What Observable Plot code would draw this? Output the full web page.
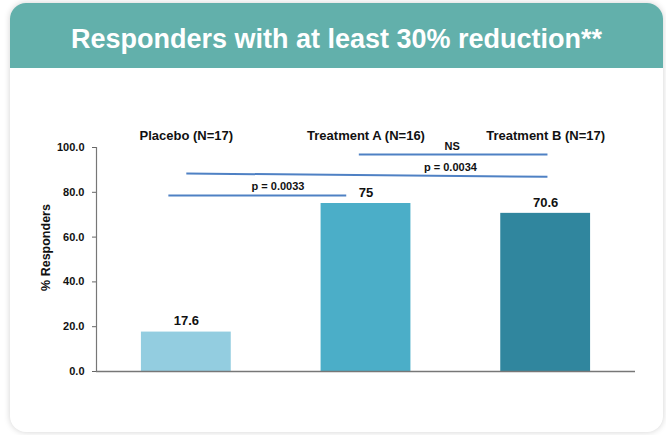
<!DOCTYPE html>
<html>
<head>
<meta charset="utf-8">
<script src="https://cdn.jsdelivr.net/npm/d3@7"></script>
<script src="https://cdn.jsdelivr.net/npm/@observablehq/plot@0.6"></script>
<style>
  html, body { margin: 0; padding: 0; background: #ffffff; }
  body { width: 666px; height: 435px; position: relative; overflow: hidden; font-family: "Liberation Sans", Arial, sans-serif; }
  #card { position: absolute; left: 10px; top: 3px; width: 653px; height: 429px; border-radius: 16px; background: #fff;
          box-shadow: 0 0 6px rgba(0,0,0,0.18); overflow: hidden; }
  #header { position: absolute; left: 0; top: 0; width: 653px; height: 65px; background: #62b0ab; color: #fff;
            font-weight: bold; font-size: 27px; text-align: center; line-height: 72px; }
  #chart { position: absolute; left: 0; top: 68px; }
</style>
</head>
<body>
<div id="card"><div id="header">Responders with at least 30% reduction**</div></div>
<div id="chart"></div>
<script>
const categories = ["Placebo (N=17)", "Treatment A (N=16)", "Treatment B (N=17)"];
const values = [17.6, 75, 70.6];
const valueLabels = ["17.6", "75", "70.6"];
const barColors = ["#93cde0", "#4baec8", "#30869e"];
const yTicks = [0, 20, 40, 60, 80, 100];
// significance brackets: x positions in category-index units, y in % units
const sigLabels = ["NS", "p = 0.0034", "p = 0.0033"];
const sigX1 = [0.96, 0.0, -0.10];
const sigX2 = [2.01, 2.01, 0.89];
const sigY1 = [96.9, 88.4, 78.6];
const sigY2 = [96.9, 86.9, 78.6];
const sigLabelX = [1.48, 1.47, 0.51];
const sigLabelY = [100.6, 91.3, 82.8];

const bars = categories.map((c, i) => ({i, c, v: values[i], label: valueLabels[i], color: barColors[i]}));
const sig = sigLabels.map((l, k) => ({l, x1: sigX1[k], x2: sigX2[k], y1: sigY1[k], y2: sigY2[k], lx: sigLabelX[k], ly: sigLabelY[k]}));

const font = "Liberation Sans, Arial, sans-serif";
const plot = Plot.plot({
  width: 666,
  height: 360,
  marginLeft: 96,
  marginRight: 31,
  marginTop: 79,
  marginBottom: 57,
  style: {fontFamily: font, fontWeight: "bold", color: "#111", background: "transparent"},
  x: {domain: [-0.5, 2.5], axis: null},
  y: {domain: [0, 100], axis: null},
  marks: [
    Plot.rect(bars, {x1: d => d.i - 0.25, x2: d => d.i + 0.25, y1: 0, y2: "v", fill: "color"}),
    Plot.text(bars, {x: "i", y: "v", text: "label", dy: -11, fontSize: 13, fontWeight: "bold", fill: "#111"}),
    Plot.axisX({anchor: "top", ticks: [0, 1, 2], tickFormat: i => categories[i], tickSize: 0, tickPadding: 8,
                fontSize: 13, fontWeight: "bold", fill: "#111", label: null}),
    Plot.axisY({ticks: yTicks, tickFormat: d => d.toFixed(1), tickSize: 4, tickPadding: 8, stroke: "#666",
                fontSize: 11, fontWeight: "bold", fill: "#111", label: null}),
    Plot.text(["% Responders"], {frameAnchor: "left", textAnchor: "middle", rotate: -90, dx: -51, dy: -12, fontSize: 12.5, fontWeight: "bold", fill: "#111"}),
    Plot.ruleX([-0.5], {stroke: "#777", strokeWidth: 1.2}),
    Plot.ruleY([0], {stroke: "#777", strokeWidth: 1.5}),
    Plot.link(sig, {x1: "x1", x2: "x2", y1: "y1", y2: "y2", stroke: "#4f81c4", strokeWidth: 2}),
    Plot.text(sig, {x: "lx", y: "ly", text: "l", fontSize: 11, fontWeight: "bold", fill: "#111"})
  ]
});
document.getElementById("chart").appendChild(plot);
</script>
</body>
</html>
